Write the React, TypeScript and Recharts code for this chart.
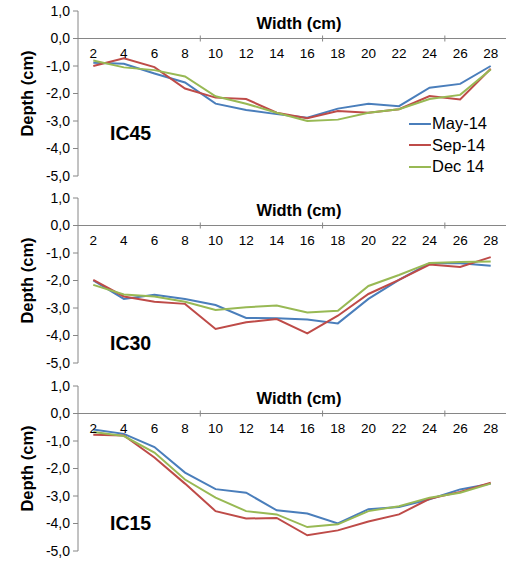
import React from "react";
import {
  LineChart,
  Line,
  XAxis,
  YAxis,
  ReferenceLine,
} from "recharts";

// widths along the section (cm)
const widths = [2, 4, 6, 8, 10, 12, 14, 16, 18, 20, 22, 24, 26, 28];
const yTicks = [1, 0, -1, -2, -3, -4, -5];

// IC45
const ic45May = [-0.88, -0.92, -1.27, -1.6, -2.37, -2.6, -2.75, -2.88, -2.55, -2.37, -2.46, -1.79, -1.65, -1.0];
const ic45Sep = [-1.0, -0.72, -1.04, -1.82, -2.15, -2.2, -2.7, -2.9, -2.64, -2.7, -2.57, -2.09, -2.22, -1.1];
const ic45Dec = [-0.8, -1.05, -1.15, -1.38, -2.1, -2.37, -2.7, -3.0, -2.95, -2.7, -2.57, -2.2, -2.05, -1.13];

// IC30
const ic30May = [-2.0, -2.67, -2.52, -2.67, -2.89, -3.36, -3.37, -3.42, -3.56, -2.67, -1.98, -1.37, -1.37, -1.46];
const ic30Sep = [-1.98, -2.58, -2.77, -2.85, -3.76, -3.52, -3.4, -3.92, -3.28, -2.49, -1.98, -1.42, -1.51, -1.15];
const ic30Dec = [-2.16, -2.51, -2.58, -2.77, -3.07, -2.97, -2.91, -3.16, -3.1, -2.2, -1.8, -1.36, -1.33, -1.31];

// IC15
const ic15May = [-0.58, -0.74, -1.22, -2.15, -2.75, -2.88, -3.52, -3.64, -4.0, -3.48, -3.4, -3.12, -2.76, -2.55];
const ic15Sep = [-0.77, -0.8, -1.6, -2.55, -3.55, -3.82, -3.8, -4.43, -4.25, -3.93, -3.67, -3.1, -2.85, -2.52];
const ic15Dec = [-0.67, -0.82, -1.42, -2.4, -3.06, -3.55, -3.67, -4.13, -4.03, -3.55, -3.37, -3.06, -2.88, -2.55];

const seriesNames = ["May-14", "Sep-14", "Dec 14"];

const BLUE = "#4A7EBB";
const RED = "#BE4B48";
const GREEN = "#98B954";
const COLORS = [BLUE, RED, GREEN];
const AXIS = "#868686";
const FONT = "Arial, 'Liberation Sans', sans-serif";

const W = 520;
const H = 187;
const TOP = 11;
const BOTTOM = 11;
const LEFT = 78;
const RIGHT = 14;
const PLOT_W = W - LEFT - RIGHT;
const PLOT_H = H - TOP - BOTTOM;
const ZERO_Y = TOP + PLOT_H / 6;
const STEP = PLOT_W / widths.length;

function WidthTick(props: any) {
  const { x, payload, index } = props;
  return (
    <g>
      <text
        x={x}
        y={ZERO_Y + 15}
        textAnchor="middle"
        dominantBaseline="central"
        fontSize={13.5}
        fontFamily={FONT}
        fill="#000"
      >
        {payload.value}
      </text>
      {index % 4 === 3 && (
        <line
          x1={x + STEP / 2}
          x2={x + STEP / 2}
          y1={ZERO_Y - 3}
          y2={ZERO_Y + 3}
          stroke={AXIS}
        />
      )}
    </g>
  );
}

function DepthLabel(props: any) {
  const vb = props.viewBox;
  const cy = vb.y + vb.height / 2;
  return (
    <text
      x={27}
      y={cy}
      transform={`rotate(-90, 27, ${cy})`}
      textAnchor="middle"
      dominantBaseline="central"
      fontSize={16.5}
      fontWeight="bold"
      fontFamily={FONT}
      fill="#000"
    >
      Depth (cm)
    </text>
  );
}

function SeriesLegend() {
  return (
    <div
      style={{
        position: "absolute",
        left: 409,
        top: 113,
        fontFamily: FONT,
        fontSize: 16.5,
      }}
    >
      {seriesNames.map((n, i) => (
        <div
          key={n}
          style={{ display: "flex", alignItems: "center", height: 21.5 }}
        >
          <span
            style={{
              display: "inline-block",
              width: 22,
              height: 2,
              background: COLORS[i],
              marginRight: 1,
            }}
          />
          <span>{n}</span>
        </div>
      ))}
    </div>
  );
}

function Panel({
  may,
  sep,
  dec,
  name,
  nameTop,
  legend,
}: {
  may: number[];
  sep: number[];
  dec: number[];
  name: string;
  nameTop: number;
  legend?: boolean;
}) {
  const data = widths.map((w, i) => ({
    w,
    may: may[i],
    sep: sep[i],
    dec: dec[i],
  }));
  return (
    <div style={{ position: "relative", width: W, height: H }}>
      <LineChart
        width={W}
        height={H}
        data={data}
        margin={{ top: TOP - 1, right: RIGHT, bottom: BOTTOM, left: 0 }}
      >
        <XAxis
          dataKey="w"
          orientation="top"
          height={1}
          axisLine={false}
          tickLine={false}
          padding={{ left: STEP / 2, right: STEP / 2 }}
          tick={(p: any) => <WidthTick {...p} />}
          interval={0}
        />
        <YAxis
          width={LEFT}
          domain={[-5, 1]}
          ticks={yTicks}
          interval={0}
          tickSize={5}
          tickMargin={3}
          stroke={AXIS}
          tick={{ fontSize: 14, fill: "#000", fontFamily: FONT }}
          tickFormatter={(v: number) => v.toFixed(1).replace(".", ",")}
          label={{ content: (p: any) => <DepthLabel {...p} /> }}
        />
        <ReferenceLine y={0} stroke={AXIS} />
        <Line
          type="linear"
          dataKey="may"
          name={seriesNames[0]}
          stroke={BLUE}
          strokeWidth={2}
          dot={false}
          isAnimationActive={false}
        />
        <Line
          type="linear"
          dataKey="sep"
          name={seriesNames[1]}
          stroke={RED}
          strokeWidth={2}
          dot={false}
          isAnimationActive={false}
        />
        <Line
          type="linear"
          dataKey="dec"
          name={seriesNames[2]}
          stroke={GREEN}
          strokeWidth={2}
          dot={false}
          isAnimationActive={false}
        />
      </LineChart>
      <div
        style={{
          position: "absolute",
          left: 299 - 60,
          width: 120,
          top: 13,
          textAlign: "center",
          fontSize: 16.5,
          fontWeight: "bold",
          fontFamily: FONT,
          lineHeight: "20px",
        }}
      >
        Width (cm)
      </div>
      <div
        style={{
          position: "absolute",
          left: 110,
          top: nameTop,
          fontSize: 19.5,
          fontWeight: "bold",
          fontFamily: FONT,
          lineHeight: "22px",
        }}
      >
        {name}
      </div>
      {legend && <SeriesLegend />}
    </div>
  );
}

export default function App() {
  return (
    <div
      style={{
        position: "absolute",
        left: 0,
        top: 0,
        width: W,
        height: 566,
        background: "#fff",
      }}
    >
      <div style={{ position: "absolute", left: 0, top: 0 }}>
        <Panel may={ic45May} sep={ic45Sep} dec={ic45Dec} name="IC45" nameTop={122} legend />
      </div>
      <div style={{ position: "absolute", left: 0, top: 187 }}>
        <Panel may={ic30May} sep={ic30Sep} dec={ic30Dec} name="IC30" nameTop={145} />
      </div>
      <div style={{ position: "absolute", left: 0, top: 375 }}>
        <Panel may={ic15May} sep={ic15Sep} dec={ic15Dec} name="IC15" nameTop={137} />
      </div>
    </div>
  );
}
